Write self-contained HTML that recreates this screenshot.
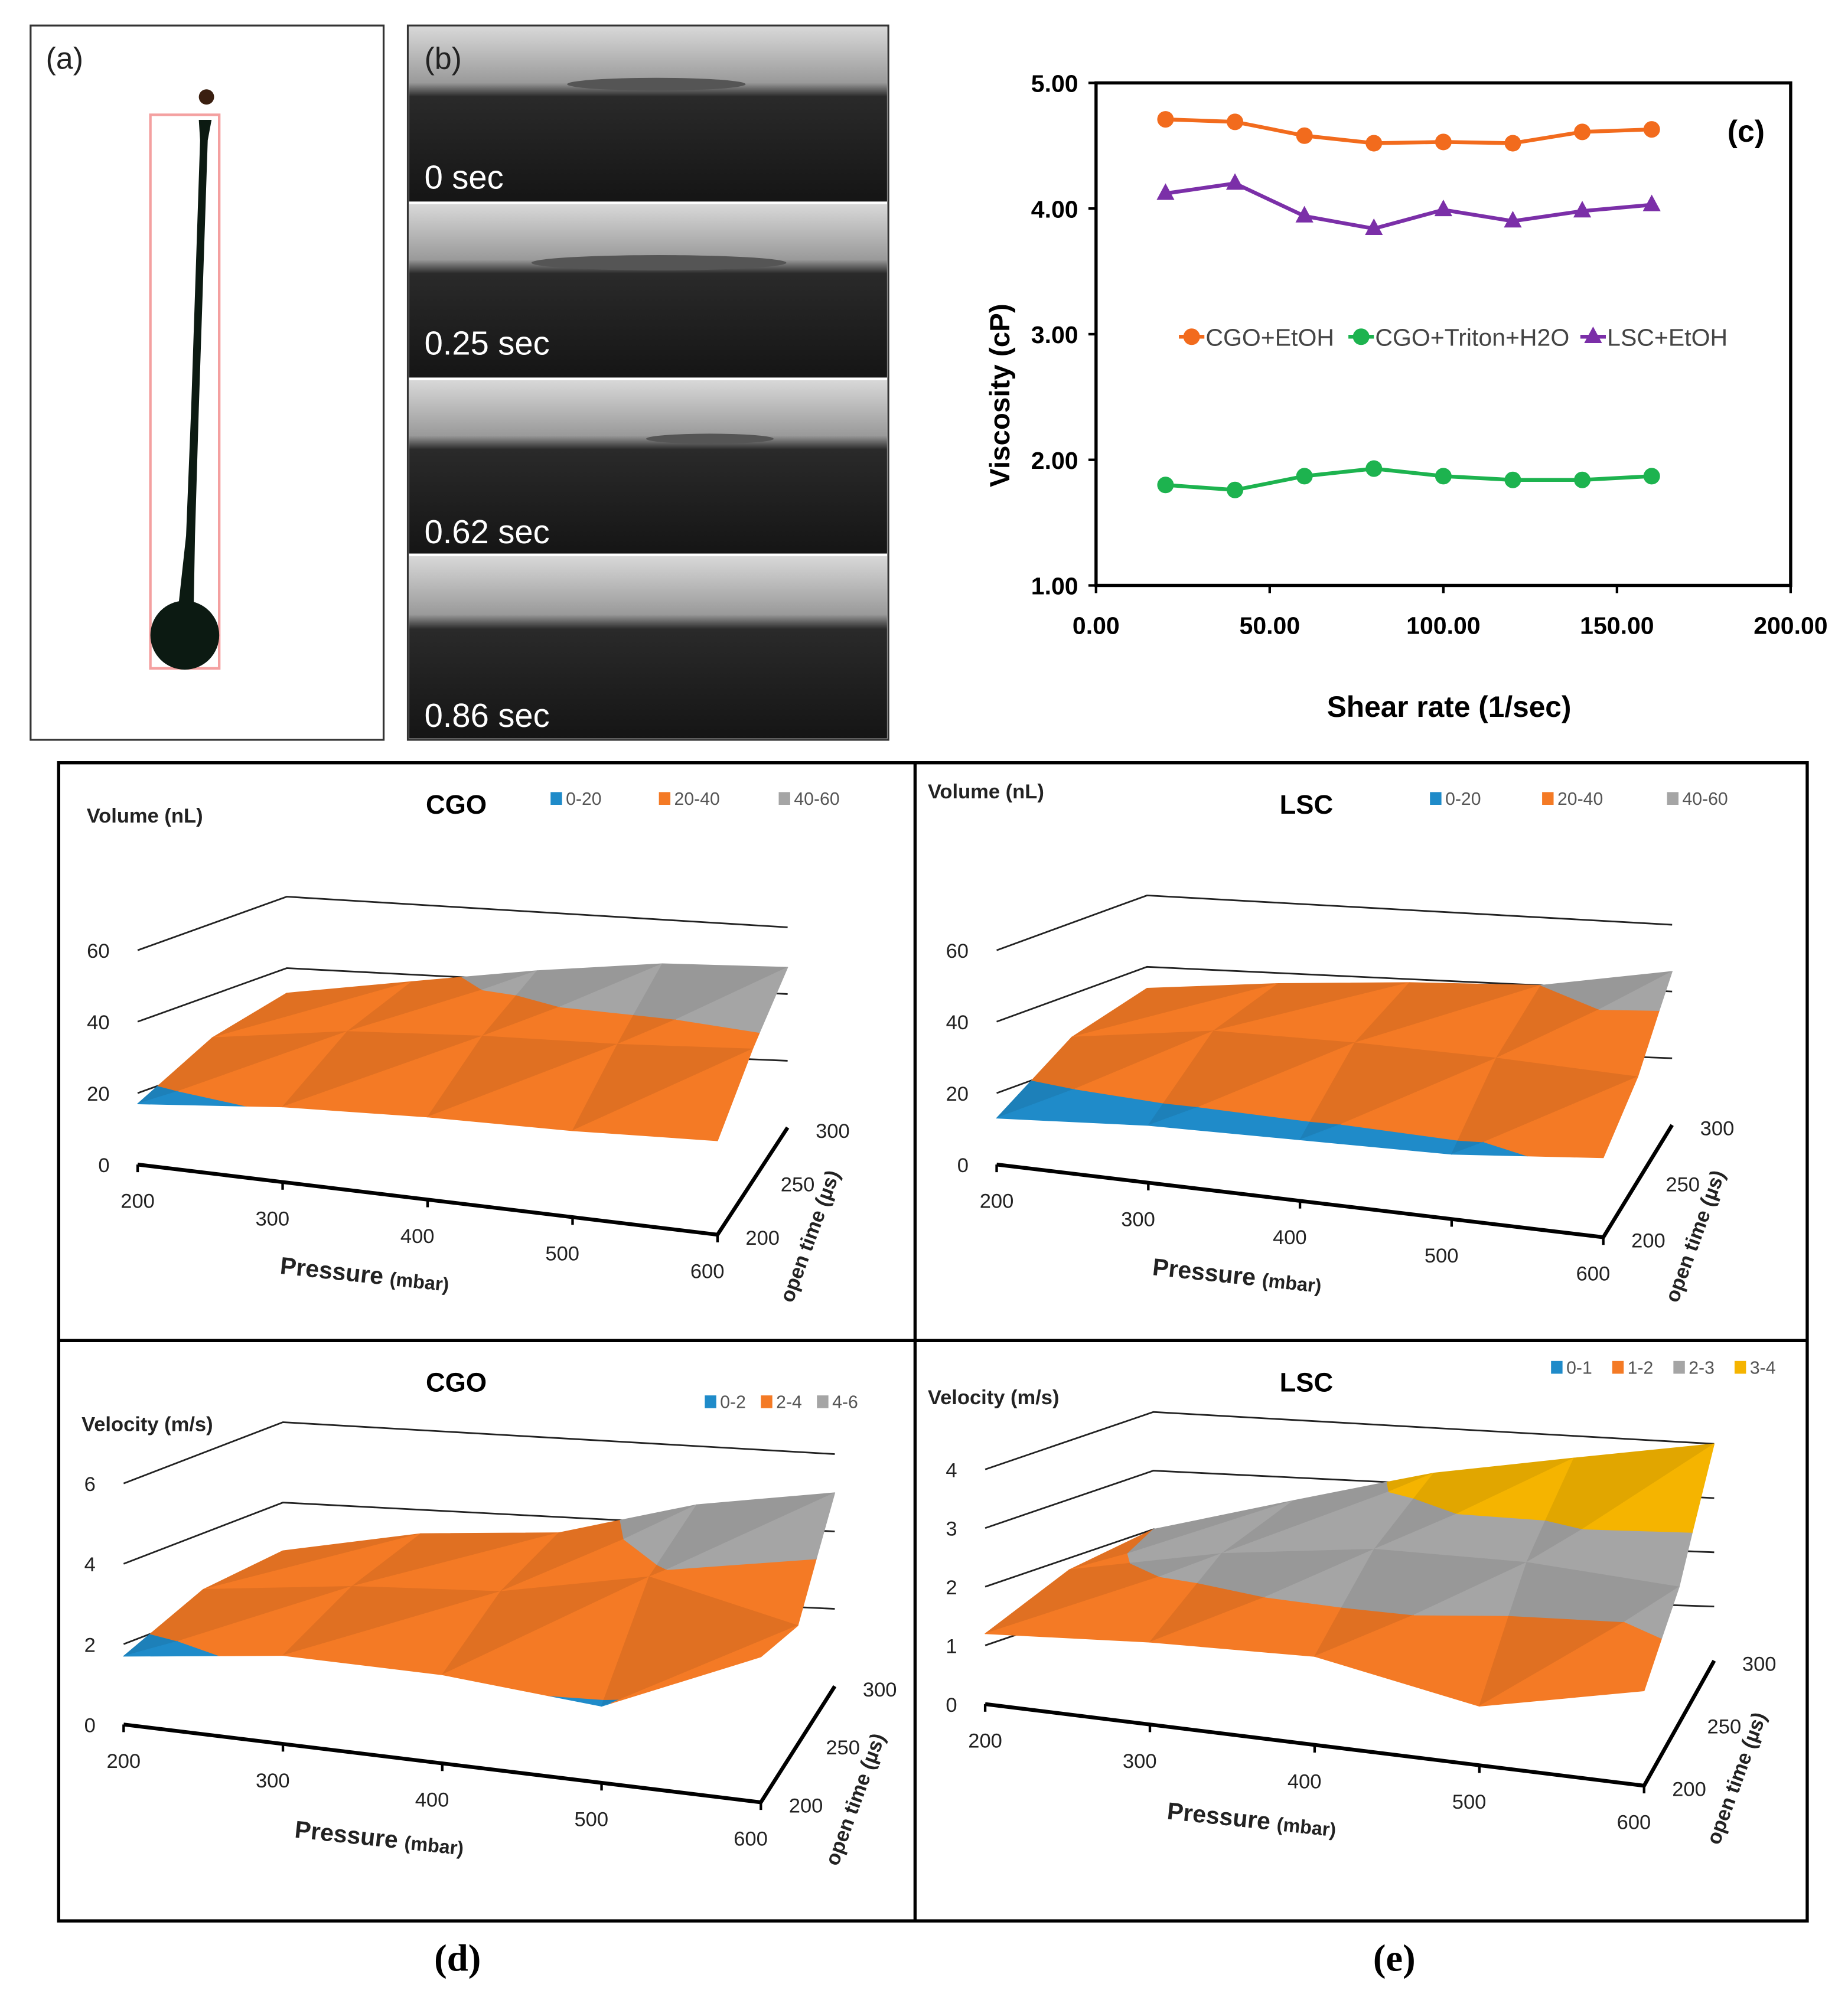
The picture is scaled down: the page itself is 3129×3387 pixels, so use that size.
<!DOCTYPE html>
<html><head><meta charset="utf-8"><style>
html,body{margin:0;padding:0;background:#fff}
svg{display:block}
text{font-family:"Liberation Sans",sans-serif}
</style></head><body>
<svg id="fig" xmlns="http://www.w3.org/2000/svg" width="3129" height="3387" viewBox="0 0 1450 1568" preserveAspectRatio="none">
<defs>
<linearGradient id="photo" x1="0" y1="0" x2="0" y2="1">
<stop offset="0" stop-color="#d8d8d8"/><stop offset="0.32" stop-color="#9a9a9a"/><stop offset="0.4" stop-color="#2a2a2a"/><stop offset="1" stop-color="#151515"/>
</linearGradient>
</defs>
<g>
<rect x="24" y="20" width="277" height="560" fill="#fff" stroke="#333" stroke-width="1.5"/>
<text x="36" y="54" font-size="24" fill="#222">(a)</text>
<rect x="118" y="90" width="54" height="434" fill="none" stroke="#f4a0a0" stroke-width="2"/>
<circle cx="162" cy="76" r="6" fill="#3a1f10"/>
<path d="M156 94 L166 94 L163 110 L160 200 L156 320 L153 420 L152 475 L140 475 L146 420 L150 320 L154 200 L157 110 Z" fill="#0c1a12"/>
<circle cx="145" cy="498" r="27" fill="#0c1a12"/>
</g>
<g>
<rect x="320" y="20" width="377" height="560" fill="#fff" stroke="#333" stroke-width="1.5"/>
<rect x="321" y="21" width="375" height="137" fill="url(#photo)"/>
<rect x="321" y="160" width="375" height="136" fill="url(#photo)"/>
<rect x="321" y="298" width="375" height="136" fill="url(#photo)"/>
<rect x="321" y="436" width="375" height="143" fill="url(#photo)"/>
<ellipse cx="515" cy="66" rx="70" ry="5" fill="#555"/>
<ellipse cx="517" cy="206" rx="100" ry="6" fill="#555"/>
<ellipse cx="557" cy="344" rx="50" ry="4" fill="#555"/>
<text x="333" y="54" font-size="24" fill="#222">(b)</text>
<text x="333" y="148" font-size="26" fill="#fff">0 sec</text>
<text x="333" y="278" font-size="26" fill="#fff">0.25 sec</text>
<text x="333" y="426" font-size="26" fill="#fff">0.62 sec</text>
<text x="333" y="570" font-size="26" fill="#fff">0.86 sec</text>
</g>
<g id="chartc"></g>
<rect x="46" y="598" width="1372" height="908" fill="none" stroke="#000" stroke-width="2.5"/>
<line x1="718" y1="598" x2="718" y2="1506" stroke="#000" stroke-width="2.5"/>
<line x1="46" y1="1051" x2="1418" y2="1051" stroke="#000" stroke-width="2.5"/>
<g id="surfaces"></g>
<text x="359" y="1545" font-size="30" font-weight="bold" text-anchor="middle" style="font-family:'Liberation Serif',serif">(d)</text>
<text x="1094" y="1545" font-size="30" font-weight="bold" text-anchor="middle" style="font-family:'Liberation Serif',serif">(e)</text>
</svg>
<script>
var NS="http://www.w3.org/2000/svg";
function mk(tag,attrs,parent,txt){var e=document.createElementNS(NS,tag);for(var k in attrs)e.setAttribute(k,attrs[k]);if(txt!==undefined)e.textContent=txt;parent.appendChild(e);return e;}

// ---------- chart c data ----------
var shearRates=[20,40,60,80,100,120,140,160];
var cgoEtoh=[4.71,4.69,4.58,4.52,4.53,4.52,4.61,4.63];
var cgoTriton=[1.80,1.76,1.87,1.93,1.87,1.84,1.84,1.87];
var lscEtoh=[4.12,4.20,3.94,3.84,3.99,3.90,3.98,4.03];
var xTicks=[0,50,100,150,200];
var yTicks=[1,2,3,4,5];

var C=document.getElementById('chartc');
var X0=860,X1=1405,Y0=459,Y1=65;
function sx(v){return X0+(v-0)/200*(X1-X0);}
function sy(v){return Y0-(v-1)/4*(Y0-Y1);}
var fr=mk('rect',{x:X0,y:Y1,width:X1-X0,height:Y0-Y1,fill:'none',stroke:'#000','stroke-width':2.5},C);


xTicks.forEach(function(t){
  mk('line',{x1:sx(t),y1:Y0,x2:sx(t),y2:Y0+6,stroke:'#000','stroke-width':2},C);
  var l=mk('text',{x:sx(t),y:Y0+38,'font-size':19,'font-weight':'bold','text-anchor':'middle'},C,t.toFixed(2));
  
  
});
yTicks.forEach(function(t){
  mk('line',{x1:X0-6,y1:sy(t),x2:X0,y2:sy(t),stroke:'#000','stroke-width':2},C);
  var l=mk('text',{x:X0-14,y:sy(t)+7,'font-size':19,'font-weight':'bold','text-anchor':'end'},C,t.toFixed(2));
  
  
});
var yt=mk('text',{x:0,y:0,'font-size':22,'font-weight':'bold','text-anchor':'middle',transform:'translate(792,310) rotate(-90)'},C,'Viscosity (cP)');


var xt=mk('text',{x:1137,y:562,'font-size':23,'font-weight':'bold','text-anchor':'middle'},C,'Shear rate (1/sec)');


var pc=mk('text',{x:1370,y:111,'font-size':24,'font-weight':'bold','text-anchor':'middle'},C,'(c)');


function series(vals,col,tri,name){
  var g=mk('g',{},C);
  
  
  var pts=vals.map(function(v,i){return sx(shearRates[i])+','+sy(v);}).join(' ');
  mk('polyline',{points:pts,fill:'none',stroke:col,'stroke-width':3},g);
  vals.forEach(function(v,i){
    var x=sx(shearRates[i]),y=sy(v);
    var m=tri?mk('polygon',{points:(x)+','+(y-8)+' '+(x-7)+','+(y+5)+' '+(x+7)+','+(y+5),fill:col},g):mk('circle',{cx:x,cy:y,r:6.5,fill:col},g);
    
    
  });
}
series(cgoEtoh,'#f26b1d',false,'series-cgo-etoh');
series(cgoTriton,'#1db34f',false,'series-cgo-triton-h2o');
series(lscEtoh,'#7b2fa8',true,'series-lsc-etoh');
[[925,'#f26b1d',false,'CGO+EtOH'],[1058,'#1db34f',false,'CGO+Triton+H2O'],[1240,'#7b2fa8',true,'LSC+EtOH']].forEach(function(L){
  var g=mk('g',{},C);
  
  
  mk('line',{x1:L[0],y1:264,x2:L[0]+20,y2:264,stroke:L[1],'stroke-width':3},g);
  if(L[2])mk('polygon',{points:(L[0]+10)+',256 '+(L[0]+3)+',269 '+(L[0]+17)+',269',fill:L[1]},g);
  else mk('circle',{cx:L[0]+10,cy:264,r:6.5,fill:L[1]},g);
  mk('text',{x:L[0]+21,y:271,'font-size':19,fill:'#444'},g,L[3]);
});

// ---------- 3D surfaces data ----------
var pressures=[200,300,400,500,600];
var openTimes=[200,250,300];
var volCgo=[[17,21,23,24,26],[28,33,35,36,38],[33,38,43,47,48]];
var volLsc=[[13,16,17,18,22],[28,33,33,32,30],[34,37,39,40,46]];
var velCgo=[[1.7,2.2,2.2,1.9,3.6],[2.6,3.0,3.2,3.9,3.0],[2.8,3.4,3.6,4.5,5.0]];
var velLsc=[[1.2,1.4,1.5,1.0,1.6],[1.8,2.3,2.6,2.6,2.4],[2.0,2.6,3.2,3.6,4.0]];

var COLS={blue:'#1f8bc9',orange:'#f47a25',gray:'#a5a5a5',gold:'#f5b400'};
var panels=[
 {name:'cgo-volume',data:volCgo,FL:[108,913],FR:[563,968],BL:[225,871],BR:[618,884],zs:[168,170,168,157],zmax:60,zt:[0,20,40,60],
  bands:[0,20,40,60],bc:['blue','orange','gray'],bl:['0-20','20-40','40-60'],title:'CGO',tx:358,ty:638,lx:[432,517,611],ly:631,ylab:'Volume (nL)',yx:68,yy:645},
 {name:'lsc-volume',data:volLsc,FL:[782,913],FR:[1258,970],BL:[900,870],BR:[1312,882],zs:[168,170,168,157],zmax:60,zt:[0,20,40,60],
  bands:[0,20,40,60],bc:['blue','orange','gray'],bl:['0-20','20-40','40-60'],title:'LSC',tx:1025,ty:638,lx:[1122,1210,1308],ly:631,ylab:'Volume (nL)',yx:728,yy:626},
 {name:'cgo-velocity',data:velCgo,FL:[97,1352],FR:[597,1413],BL:[222,1304],BR:[655,1322],zs:[189,190,189,182],zmax:6,zt:[0,2,4,6],
  bands:[0,2,4,6],bc:['blue','orange','gray'],bl:['0-2','2-4','4-6'],title:'CGO',tx:358,ty:1091,lx:[553,597,641],ly:1104,ylab:'Velocity (m/s)',yx:64,yy:1122},
 {name:'lsc-velocity',data:velLsc,FL:[773,1336],FR:[1290,1400],BL:[905,1291],BR:[1345,1302],zs:[184,186,184,170],zmax:4,zt:[0,1,2,3,4],
  bands:[0,1,2,3,4],bc:['blue','orange','gray','gold'],bl:['0-1','1-2','2-3','3-4'],title:'LSC',tx:1025,ty:1091,lx:[1217,1265,1313,1361],ly:1077,ylab:'Velocity (m/s)',yx:728,yy:1101}
];
var S=document.getElementById('surfaces');
function shade(hex,f){var n=parseInt(hex.slice(1),16);var r=(n>>16)&255,g=(n>>8)&255,b=n&255;
  r=Math.min(255,Math.round(r*f));g=Math.min(255,Math.round(g*f));b=Math.min(255,Math.round(b*f));return 'rgb('+r+','+g+','+b+')';}
function clipZ(poly,lvl,keepAbove){
  var out=[];
  for(var i=0;i<poly.length;i++){
    var a=poly[i],b=poly[(i+1)%poly.length];
    var ina=keepAbove?a[2]>=lvl:a[2]<=lvl, inb=keepAbove?b[2]>=lvl:b[2]<=lvl;
    if(ina)out.push(a);
    if(ina!==inb){var s=(lvl-a[2])/(b[2]-a[2]);out.push([a[0]+s*(b[0]-a[0]),a[1]+s*(b[1]-a[1]),lvl]);}
  }
  return out;
}
panels.forEach(function(P){
  var G=mk('g',{},S);
  
  
  function base(u,v){return [
    (1-u)*(1-v)*P.FL[0]+u*(1-v)*P.FR[0]+(1-u)*v*P.BL[0]+u*v*P.BR[0],
    (1-u)*(1-v)*P.FL[1]+u*(1-v)*P.FR[1]+(1-u)*v*P.BL[1]+u*v*P.BR[1]];}
  function zsc(u,v){return (1-u)*(1-v)*P.zs[0]+u*(1-v)*P.zs[1]+(1-u)*v*P.zs[2]+u*v*P.zs[3];}
  function proj(p,t,z){var u=(p-200)/400,v=(t-200)/100;var b=base(u,v);return [b[0],b[1]-z/P.zmax*zsc(u,v)];}
  P.zt.forEach(function(z){
    var a=proj(200,200,z),b=proj(200,300,z),c=proj(600,300,z);
    var gl=mk('polyline',{points:a.join(',')+' '+b.join(',')+' '+c.join(','),fill:'none',stroke:'#222','stroke-width':z===0?0:1.3},G);
    
    
    var lp=proj(200,200,z);
    var tl=mk('text',{x:lp[0]-22,y:lp[1]+6,'font-size':16,'text-anchor':'end',fill:'#222'},G,String(z));
    
    
  });
  var f0=proj(200,200,0),f1=proj(600,200,0),f2=proj(600,300,0);
  mk('polyline',{points:f0.join(',')+' '+f1.join(',')+' '+f2.join(','),fill:'none',stroke:'#000','stroke-width':3},G);
  pressures.forEach(function(p,i){
    var q=proj(p,200,0);
    mk('line',{x1:q[0],y1:q[1],x2:q[0],y2:q[1]+6,stroke:'#000','stroke-width':2},G);
    var l=mk('text',{x:q[0]-(i===0?0:8),y:q[1]+34,'font-size':16,'text-anchor':'middle',fill:'#222'},G,String(p));
    
    
  });
  openTimes.forEach(function(t){
    var q=proj(600,t,0);
    var l=mk('text',{x:q[0]+22,y:q[1]+8,'font-size':16,fill:'#222'},G,String(t));
    
    
  });
  var mid=proj(400,200,0);
  var xa=mk('text',{x:0,y:0,'font-size':19,'font-weight':'bold','text-anchor':'middle',fill:'#222',transform:'translate('+(mid[0]-50)+','+(mid[1]+65)+') rotate(6)'},G);
  
  
  mk('tspan',{},xa,'Pressure ');mk('tspan',{'font-size':15},xa,'(mbar)');
  var rt=proj(600,250,0);
  var ya=mk('text',{x:0,y:0,'font-size':16,'font-weight':'bold','text-anchor':'middle',fill:'#222',transform:'translate('+(rt[0]+50)+','+(rt[1]+45)+') rotate(-70)'},G,'open time (µs)');
  
  
  for(var ti=openTimes.length-2;ti>=0;ti--){
    for(var pi=0;pi<pressures.length-1;pi++){
      var A=[pressures[pi],openTimes[ti],P.data[ti][pi]],B=[pressures[pi+1],openTimes[ti],P.data[ti][pi+1]],
          Cc=[pressures[pi+1],openTimes[ti+1],P.data[ti+1][pi+1]],D=[pressures[pi],openTimes[ti+1],P.data[ti+1][pi]];
      [[[A,D,Cc],0.92],[[A,B,Cc],1.0]].forEach(function(T){
        for(var bi=0;bi<P.bc.length;bi++){
          var poly=T[0].slice();
          if(bi>0)poly=clipZ(poly,P.bands[bi],true);
          if(bi<P.bc.length-1&&poly.length)poly=clipZ(poly,P.bands[bi+1],false);
          if(poly.length<3)continue;
          var col=shade(COLS[P.bc[bi]],T[1]);
          var pts=poly.map(function(q){return proj(q[0],q[1],q[2]).join(',');}).join(' ');
          var tr=mk('polygon',{points:pts,fill:col,stroke:col,'stroke-width':0.6,'stroke-linejoin':'round'},G);
          
          
        }
      });
    }
  }
  var tt=mk('text',{x:P.tx,y:P.ty,'font-size':21,'font-weight':'bold','text-anchor':'middle'},G,P.title);
  
  
  var yl=mk('text',{x:P.yx,y:P.yy,'font-size':16,'font-weight':'bold',fill:'#222'},G,P.ylab);
  
  
  P.bl.forEach(function(lbl,i){
    var g=mk('g',{},G);
    
    
    mk('rect',{x:P.lx[i],y:P.ly-10,width:9,height:10,fill:COLS[P.bc[i]]},g);
    mk('text',{x:P.lx[i]+12,y:P.ly,'font-size':14,fill:'#555'},g,lbl);
  });
});
</script>
</body></html>
